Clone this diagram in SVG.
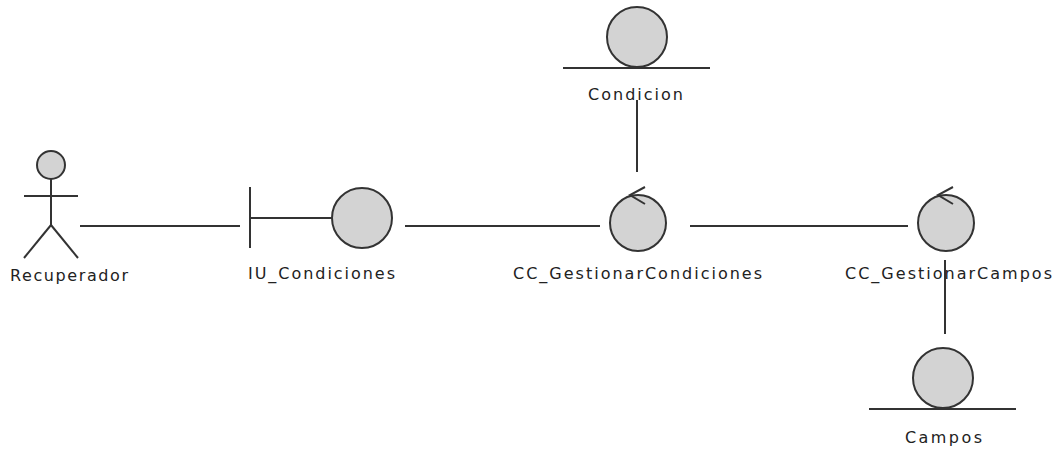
<svg xmlns="http://www.w3.org/2000/svg" width="1060" height="449" viewBox="0 0 1060 449">
  <style>
    .ln { stroke: #333333; stroke-width: 2; fill: none; }
    .ball { fill: #d3d3d3; stroke: #333333; stroke-width: 2; }
    .lbl { font-family: "DejaVu Sans", "Liberation Sans", sans-serif; font-size: 16px; fill: #222222; }
  </style>
  <rect width="1060" height="449" fill="#ffffff"/>

  <!-- links between the objects -->
  <g id="connectors">
    <line class="ln" x1="80" y1="226" x2="240" y2="226"/>
    <line class="ln" x1="405" y1="226" x2="600" y2="226"/>
    <line class="ln" x1="690" y1="226" x2="908" y2="226"/>
    <line class="ln" x1="637" y1="100" x2="637" y2="172"/>
    <line class="ln" x1="945" y1="260" x2="945" y2="334"/>
  </g>

  <!-- actor -->
  <g id="recuperador">
    <circle class="ball" cx="51" cy="165" r="14"/>
    <line class="ln" x1="51" y1="179" x2="51" y2="225"/>
    <line class="ln" x1="24" y1="196" x2="78" y2="196"/>
    <line class="ln" x1="51" y1="225" x2="24" y2="258"/>
    <line class="ln" x1="51" y1="225" x2="78" y2="258"/>
    <text class="lbl" x="10" y="281" textLength="118" lengthAdjust="spacing">Recuperador</text>
  </g>

  <!-- boundary -->
  <g id="iu-condiciones">
    <line class="ln" x1="250" y1="187" x2="250" y2="248"/>
    <line class="ln" x1="250" y1="218" x2="332" y2="218"/>
    <circle class="ball" cx="362" cy="218" r="30"/>
    <text class="lbl" x="248" y="279" textLength="147" lengthAdjust="spacing">IU_Condiciones</text>
  </g>

  <!-- control: conditions -->
  <g id="cc-gestionar-condiciones">
    <circle class="ball" cx="638" cy="223" r="28"/>
    <polyline class="ln" points="645,187 630,195 645,204" stroke-width="1.6"/>
    <text class="lbl" x="513" y="279" textLength="249" lengthAdjust="spacing">CC_GestionarCondiciones</text>
  </g>

  <!-- control: fields -->
  <g id="cc-gestionar-campos">
    <circle class="ball" cx="946" cy="223" r="28"/>
    <polyline class="ln" points="953,187 938,195 953,204" stroke-width="1.6"/>
    <text class="lbl" x="845" y="279" textLength="207" lengthAdjust="spacing">CC_GestionarCampos</text>
  </g>

  <!-- entity: condition -->
  <g id="condicion">
    <circle class="ball" cx="637" cy="37" r="30"/>
    <line class="ln" x1="563" y1="68" x2="710" y2="68"/>
    <text class="lbl" x="588" y="100" textLength="95" lengthAdjust="spacing">Condicion</text>
  </g>

  <!-- entity: fields -->
  <g id="campos">
    <circle class="ball" cx="943" cy="378" r="30"/>
    <line class="ln" x1="869" y1="409" x2="1016" y2="409"/>
    <text class="lbl" x="905" y="443" textLength="77" lengthAdjust="spacing">Campos</text>
  </g>
</svg>
